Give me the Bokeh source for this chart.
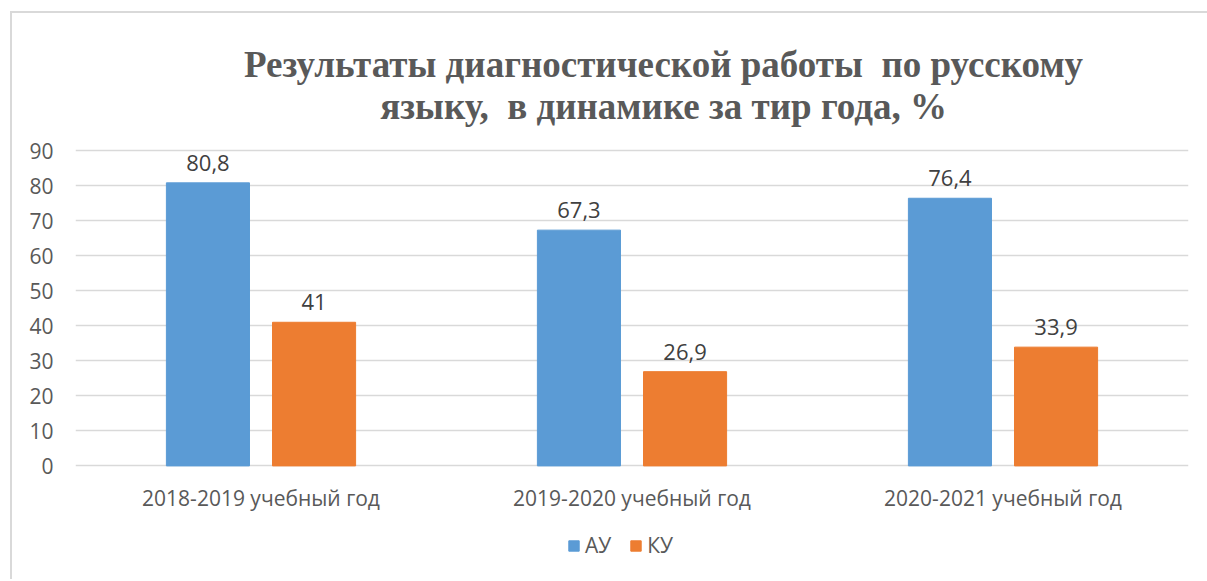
from bokeh.plotting import figure
from bokeh.models import ColumnDataSource, Range1d, LabelSet, Label
from bokeh.transform import dodge
from bokeh.core.properties import value
from bokeh.embed import file_html
from bokeh.resources import INLINE

categories = ["2018-2019 учебный год", "2019-2020 учебный год", "2020-2021 учебный год"]
au = [80.8, 67.3, 76.4]
ku = [41, 26.9, 33.9]
series_names = ["АУ", "КУ"]
title_lines = ["Результаты диагностической работы\u00a0 по русскому", "языку,\u00a0 в динамике за тир года, %"]
y_ticks = [0, 10, 20, 30, 40, 50, 60, 70, 80, 90]

def fmt(v):
    return ("%g" % v).replace(".", ",")

src = ColumnDataSource(dict(
    cat=categories, au=au, ku=ku,
    au_lbl=[fmt(v) for v in au], ku_lbl=[fmt(v) for v in ku],
))

FONT = "Open Sans"
p = figure(x_range=categories, y_range=Range1d(-31, 124),
           frame_width=1113, frame_height=543,
           output_backend="svg", toolbar_location=None,
           min_border_left=63, min_border_right=19, min_border_top=18, min_border_bottom=5)
p.margin = (11, 0, 0, 10)
p.styles = {"border-left": "2px solid #d9d9d9", "border-top": "2px solid #d9d9d9"}
p.outline_line_color = None
p.background_fill_color = "white"

off = 0.143
w = 0.224
p.vbar(x=dodge("cat", -off, range=p.x_range), top="au", width=w, source=src,
       color="#5B9BD5", legend_label=series_names[0])
p.vbar(x=dodge("cat", off, range=p.x_range), top="ku", width=w, source=src,
       color="#ED7D31", legend_label=series_names[1])

for col, lbl, o in (("au", "au_lbl", -off), ("ku", "ku_lbl", off)):
    p.add_layout(LabelSet(x=dodge("cat", o, range=p.x_range), y=col, text=lbl, source=src,
                          text_align="center", text_baseline="bottom", y_offset=12,
                          text_font=value(FONT), text_font_size="22px", text_color="#404040"))

# category labels below the zero line
p.add_layout(LabelSet(x="cat", y=0, text="cat", source=src, y_offset=-32,
                      text_align="center", text_baseline="middle",
                      text_font=value(FONT), text_font_size="21px", text_color="#595959"))

# title
for t, yv in zip(title_lines, [114.6, 102.6]):
    p.add_layout(Label(x=1.585, y=yv, text=t, text_align="center", text_baseline="middle",
                       text_font="Liberation Serif", text_font_style="bold",
                       text_font_size="37px", text_color="#595959"))

p.ygrid.grid_line_color = "#d9d9d9"
p.ygrid.grid_line_width = 1.5
p.xgrid.grid_line_color = None
p.yaxis.ticker = y_ticks
p.yaxis.axis_line_color = None
p.yaxis.major_tick_line_color = None
p.yaxis.minor_tick_line_color = None
p.yaxis.major_label_standoff = 16
p.yaxis.major_label_text_font = FONT
p.yaxis.major_label_text_font_size = "21px"
p.yaxis.major_label_text_color = "#595959"
p.xaxis.visible = False

lg = p.legend[0]
lg.orientation = "horizontal"
lg.location = (492, 15)
lg.border_line_color = None
lg.background_fill_alpha = 0
lg.padding = 0
lg.margin = 0
lg.spacing = 18
lg.glyph_width = 13
lg.glyph_height = 13
lg.label_height = 22
lg.label_standoff = 5
lg.label_text_font = FONT
lg.label_text_font_size = "21px"
lg.label_text_color = "#595959"

open("out.html", "w").write(file_html(p, INLINE))
